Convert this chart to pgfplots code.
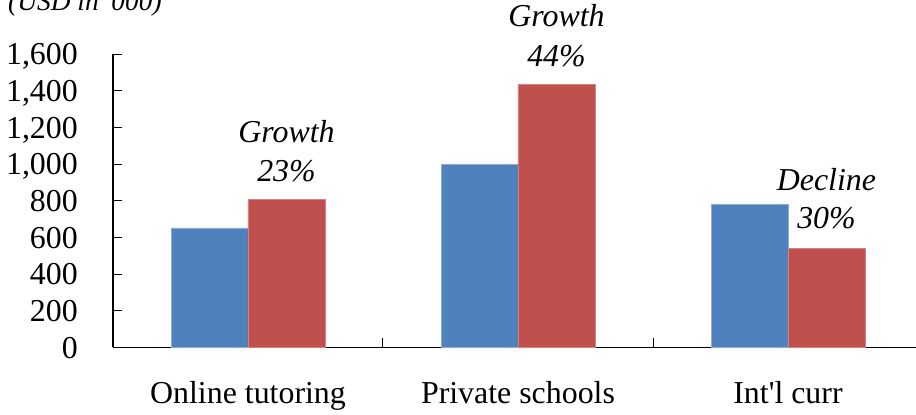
\documentclass[border=0pt]{standalone}
\usepackage{fontspec}
\setmainfont{Liberation Serif}
\usepackage{pgfplots}
\pgfplotsset{compat=1.18}
\definecolor{cblue}{HTML}{4F81BD}
\definecolor{cred}{HTML}{C0504D}
\newcommand\fs{\fontsize{32}{38}\selectfont}
\newcommand\sq{\textquotesingle}
\begin{document}
\begin{tikzpicture}
\begin{axis}[
  x=270bp, y=0.18333bp,
  xmin=-0.5, xmax=2.5, ymin=0, ymax=1600,
  axis x line*=bottom, axis y line*=left,
  axis line style={line width=1.5bp, black},
  clip=false,
  ybar=0pt, bar width=0.285,
  ytick={0,200,...,1600},
  tick align=inside,
  major tick length=9bp,
  tick style={line width=1bp, black},
  xtick={0.5,1.5},
  xticklabels={},
  extra x ticks={0,1,2},
  extra x tick labels={Online tutoring, Private schools, Int\sq l curr},
  extra x tick style={major tick length=0pt},
  xticklabel style={font=\fs, anchor=base, yshift=-56bp, inner sep=0pt},
  yticklabel style={font=\fs, anchor=base east, inner sep=0pt, xshift=-35bp, yshift=-10.8bp},
  /pgf/number format/.cd, 1000 sep={,}, assume math mode=true,
]
\addplot[fill=cblue, draw=cblue!65!white, line width=0.6bp] coordinates {(0,652) (1,998) (2,778)};
\addplot[fill=cred, draw=cred!70!white, line width=0.6bp] coordinates {(0,805) (1,1435) (2,540)};
\coordinate (bl) at (axis cs:-0.9185,-364);
\coordinate (tr) at (axis cs:2.4741,1894.6);
\node[anchor=base west, inner sep=0pt, font=\fontsize{27.5}{33}\selectfont\itshape] at (axis cs:-0.8889,1840) {(USD in \sq 000)};
\begin{scope}[every node/.style={anchor=base, inner sep=0pt, font=\fs\itshape}]
\node at (axis cs:0.1425,1120) {Growth};
\node at (axis cs:0.1425,902) {23\%};
\node at (axis cs:1.1425,1748) {Growth};
\node at (axis cs:1.1425,1531) {44\%};
\node at (axis cs:2.1425,858) {Decline};
\node at (axis cs:2.1425,649) {30\%};
\end{scope}
\end{axis}
\pgfresetboundingbox
\useasboundingbox (bl) rectangle (tr);
\end{tikzpicture}
\end{document}
